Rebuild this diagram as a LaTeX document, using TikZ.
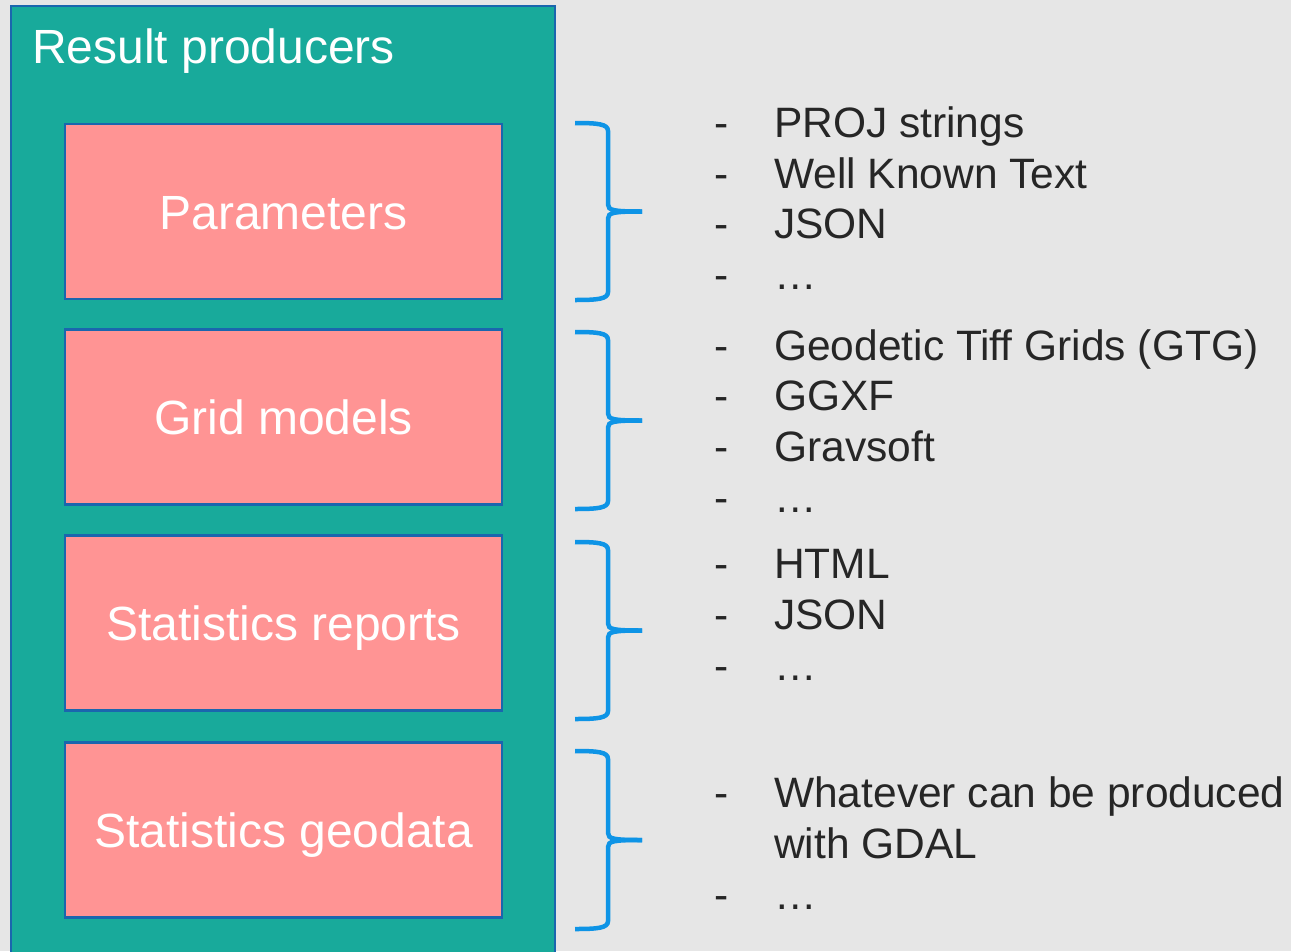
\documentclass[tikz,border=0pt]{standalone}
\usepackage{fontspec}
\setmainfont{Liberation Sans}

\definecolor{bggrey}{HTML}{E6E6E6}
\definecolor{producerteal}{HTML}{18AA9B}
\definecolor{boxpink}{HTML}{FF9494}
\definecolor{edgeblue}{HTML}{1A66AE}
\definecolor{braceblue}{HTML}{0E94E6}
\definecolor{itemgrey}{HTML}{262626}

\tikzset{
	resultbox/.style={draw=edgeblue, line width=2.5pt, fill=boxpink,
		minimum width=437pt, minimum height=175pt, text=white,
		text height=35pt, text depth=0pt,
		font=\fontsize{48}{58}\selectfont},
	listitem/.style={anchor=base west, inner sep=0pt, text=itemgrey,
		font=\fontsize{42.5}{51}\selectfont},
	bracepath/.style={draw=braceblue, line width=4.5pt, line cap=butt}
}

\begin{document}
\begin{tikzpicture}[x=1pt,y=-1pt]

	\newcommand*{\braceLeft}{575}%
	\newcommand*{\braceMid}{608}%
	\newcommand*{\braceTip}{642}%
	% right hand brace from #1 (top) to #2 (bottom)
	\newcommand*{\outbrace}[2]{%
		\pgfmathsetmacro{\m}{(#1+#2)/2}%
		\draw[bracepath] (\braceLeft,#1) .. controls (598,#1) and (\braceMid,{#1+1}) .. (\braceMid,{#1+8})
			-- (\braceMid,{\m-7}) .. controls (\braceMid,{\m-1}) and (614,\m) .. (\braceTip,\m);
		\draw[bracepath] (\braceLeft,#2) .. controls (598,#2) and (\braceMid,{#2-1}) .. (\braceMid,{#2-8})
			-- (\braceMid,{\m+7}) .. controls (\braceMid,{\m+1}) and (614,\m) .. (\braceTip,\m);
	}

	\fill[bggrey] (0,0) rectangle (1291,951);
	\clip (0,0) rectangle (1291,951);

	\draw[edgeblue, line width=2.5pt, fill=producerteal] (11,6) rectangle (555,975);
	\node[anchor=base west, inner sep=0pt, text=white, font=\fontsize{48}{58}\selectfont] (title) at (32,63) {Result producers};

	\node[resultbox] (params) at (283.5,211.5) {Parameters};
	\node[resultbox] (grids) at (283.5,417) {Grid models};
	\node[resultbox] (reports) at (283.5,623) {Statistics reports};
	\node[resultbox] (geodata) at (283.5,830) {Statistics geodata};

	\outbrace{123}{300}
	\outbrace{332}{509}
	\outbrace{542}{719}
	\outbrace{751}{929}

	\foreach \y/\txt [count=\i] in {137/PROJ strings, 188/Well Known Text, 238/JSON, 289/…,
			360/Geodetic Tiff Grids (GTG), 410/GGXF, 461/Gravsoft, 512/…,
			578/HTML, 629/JSON, 680/…,
			807/Whatever can be produced, 909/…}{
		\node[listitem] (dash\i) at (714,\y) {-};
		\node[listitem] (item\i) at (774,\y) {\txt};
	}
	\node[listitem] (gdal) at (774,858) {with GDAL};

\end{tikzpicture}
\end{document}
